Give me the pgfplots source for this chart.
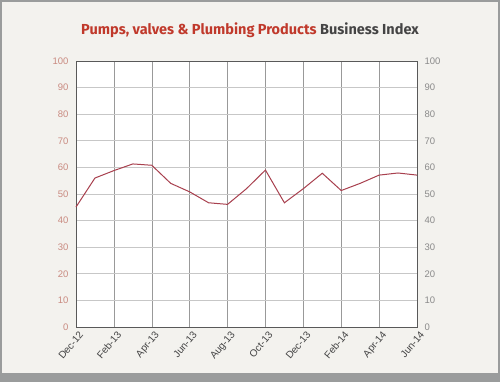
\documentclass[border=0pt]{standalone}
\usepackage{pgfplots}
\pgfplotsset{compat=1.18}
\usepackage{fontspec}
\setmainfont{Liberation Sans}
\newfontfamily\titlefont{Fira Sans}
\definecolor{bg}{HTML}{F3F2EE}
\definecolor{frame}{HTML}{9A9C9C}
\definecolor{linered}{HTML}{A8404E}
\definecolor{titlered}{HTML}{C0392B}
\definecolor{titlegray}{HTML}{444444}
\definecolor{ticklred}{HTML}{C98A80}
\definecolor{ticklgray}{HTML}{8A8A8A}
\pgfplotstableread{
m v
0 45.1
1 56
2 58.8
3 61.3
4 60.8
5 54
6 50.8
7 46.7
8 46.1
9 52
10 59
11 46.7
12 52
13 57.8
14 51.3
15 54
16 57.1
17 57.9
18 57.1
}\datatab
\begin{document}
\begin{tikzpicture}[x=1pt,y=1pt]
\fill[frame] (0,0) rectangle (500,382);
\fill[bg] (2,9) rectangle (498,380);
\node[font=\titlefont\fontsize{14.5}{16}\selectfont\bfseries] at (250,352) {\textcolor{titlered}{Pumps, valves \& Plumbing Products} \textcolor{titlegray}{Business Index}};
\begin{axis}[
  at={(76pt,55pt)}, anchor=south west,
  scale only axis, width=341pt, height=266pt,
  xmin=0, xmax=18, ymin=0, ymax=100,
  axis background/.style={fill=white},
  xtick={0,2,...,18},
  xticklabels={Dec-12,Feb-13,Apr-13,Jun-13,Aug-13,Oct-13,Dec-13,Feb-14,Apr-14,Jun-14},
  x tick label style={rotate=50, anchor=north east, font=\fontsize{10}{12}\selectfont, text=titlegray, inner sep=1pt, yshift=-3pt},
  ytick={0,10,...,100},
  y tick label style={font=\fontsize{9.5}{11}\selectfont, text=ticklred, xshift=-4pt},
  /pgf/number format/assume math mode=true,
  major tick length=0pt,
  xmajorgrids, ymajorgrids,
  x grid style={draw=black!40, line width=0.5pt},
  y grid style={draw=black!22, line width=0.8pt},
  axis line style={draw=black!65, line width=0.8pt},
  clip=false,
]
\addplot[linered, line width=1pt] table[x=m,y=v] {\datatab};
\end{axis}
\begin{axis}[
  at={(76pt,55pt)}, anchor=south west,
  scale only axis, width=341pt, height=266pt,
  xmin=0, xmax=18, ymin=0, ymax=100,
  axis x line=none, axis y line*=right,
  y axis line style={draw=none},
  ytick={0,10,...,100},
  yticklabel pos=right,
  y tick label style={font=\fontsize{9.5}{11}\selectfont, text=ticklgray, xshift=4pt},
  /pgf/number format/assume math mode=true,
  major tick length=0pt,
]
\addplot[draw=none] coordinates {(0,0)};
\end{axis}
\end{tikzpicture}
\end{document}
